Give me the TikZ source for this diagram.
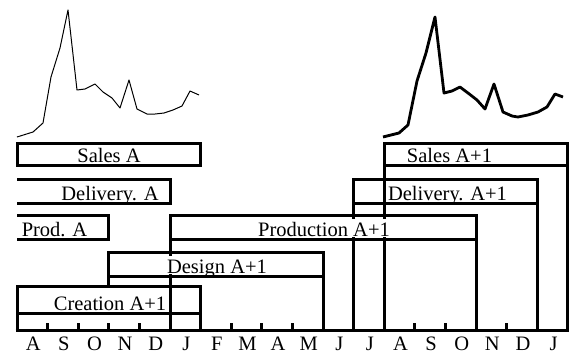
\documentclass[tikz,border=0pt]{standalone}
\usepackage{fontspec}
\setmainfont{Liberation Serif}
\begin{document}
\begin{tikzpicture}[x=1pt,y=-1pt,
  bar/.style={line width=3pt},
  tickline/.style={line width=3pt},
  lbl/.style={anchor=base, inner sep=0pt, font=\fontsize{20.5}{24}\selectfont},
  boxlbl/.style={lbl, fill=white, inner xsep=1pt, text height=17pt, text depth=1pt},
  curvethin/.style={line width=1pt, line join=round},
  curvethick/.style={line width=2.8pt, line join=round}]
\useasboundingbox (0,0) rectangle (571,354);

% sales curves
\draw[curvethin] (17,137) -- (33,132) -- (43,123) -- (51,77) -- (60,48) -- (68,10) -- (77,90) -- (85,89) -- (95,84) -- (103,92) -- (112,98) -- (120,108) -- (129,80) -- (137,109) -- (147,114) -- (155,114) -- (164,113) -- (173,110) -- (182,106) -- (190,91) -- (199,95);
\draw[curvethick] (383,137) -- (399,133) -- (408,125) -- (417,81) -- (426,53) -- (435,17) -- (444,93) -- (452,91) -- (460,87) -- (468,93) -- (477,100) -- (485,109) -- (494,84) -- (503,112) -- (512,116) -- (518,117) -- (528,115) -- (538,112) -- (547,107) -- (555,94) -- (563,97);

% Sales A
\draw[bar] (17,143) rectangle (200.6,165);
% Delivery A (open left)
\draw[bar] (17,179) -| (170,203) -- (17,203);
% Prod A (open left)
\draw[bar] (17,215) -| (108.8,239) -- (17,239);
% Production A+1
\draw[bar] (170,330) |- (476,215) -- (476,330);
\draw[bar] (170,239) -- (476,239);
% Design A+1
\draw[bar] (108.8,286) |- (323,252) -- (323,330);
\draw[bar] (108.8,276) -- (323,276);
% Creation A+1
\draw[bar] (17,330) |- (200.6,286) -- (200.6,330);
\draw[bar] (17,313) -- (200.6,313);
% Delivery A+1
\draw[bar] (353.6,330) |- (537.2,179) -- (537.2,330);
\draw[bar] (353.6,203) -- (537.2,203);
% Sales A+1
\draw[bar] (384.2,330) |- (567,143) -- (567,330);
\draw[bar] (384.2,165) -- (567,165);

% axis
\draw[bar] (15.5,330) -- (568.5,330);
\foreach \i in {1,2,3,4,7,8,9,13,14,16}
  \draw[tickline] ({17+30.6*\i},323) -- ({17+30.6*\i},330);

% labels
\node[boxlbl] (salesA) at (109,162.5) {Sales A};
\node[boxlbl] (delivA) at (110,200) {Delivery. A};
\node[boxlbl] (prodA) at (54.5,236) {Prod. A};
\node[boxlbl] (prodA1) at (324,236) {Production A+1};
\node[boxlbl] (designA1) at (217,273) {Design A+1};
\node[boxlbl] (creatA1) at (110,310) {Creation A+1};
\node[boxlbl] (delivA1) at (447.5,200) {Delivery. A+1};
\node[boxlbl] (salesA1) at (449.5,162.5) {Sales A+1};

% months
\foreach \m [count=\k from 0] in {A,S,O,N,D,J,F,M,A,M,J,J,A,S,O,N,D,J}
  \node[lbl, text depth=0pt] (m\k) at ({17+30.6*(\k+0.5)+1},350.5) {\m};
\end{tikzpicture}
\end{document}
